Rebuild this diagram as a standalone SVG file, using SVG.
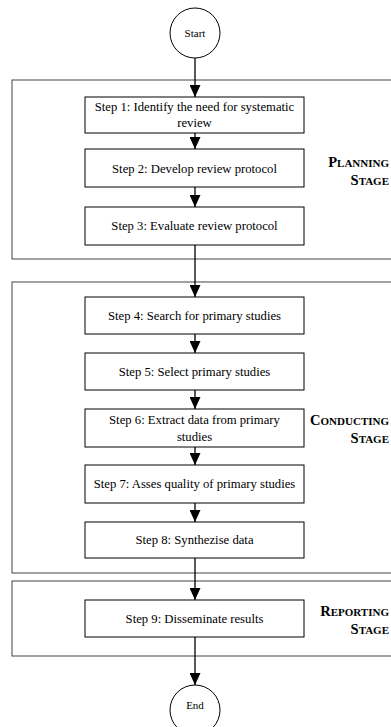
<svg xmlns="http://www.w3.org/2000/svg" width="391" height="727" viewBox="0 0 391 727">
<style>
.stage{fill:none;stroke:#444;stroke-width:1}
.box{fill:#fff;stroke:#000;stroke-width:1}
.term{fill:#fff;stroke:#000;stroke-width:1}
.t{font-family:"Liberation Serif","Times New Roman",serif;font-size:12.7px;fill:#000;text-anchor:middle}
.lab{font-family:"Liberation Serif","Times New Roman",serif;font-weight:bold;fill:#000;text-anchor:end}
.big{font-size:14.5px}
.sm{font-size:11px}
.con{stroke:#000;stroke-width:1.3;fill:none;marker-end:url(#ah)}
</style>
<defs>
<marker id="ah" markerUnits="userSpaceOnUse" markerWidth="12" markerHeight="11" refX="12" refY="5.5" orient="auto">
<path d="M0,0 L12,5.5 L0,11 Z" fill="#000"/>
</marker>
</defs>
<rect width="391" height="727" fill="#fff"/>
<g id="stage-planning">
<rect class="stage" x="12" y="80" width="400" height="179"/>
<text class="lab" x="389" y="167"><tspan class="big">P</tspan><tspan class="sm">LANNING</tspan></text>
<text class="lab" x="389" y="185"><tspan class="big">S</tspan><tspan class="sm">TAGE</tspan></text>
</g>
<g id="stage-conducting">
<rect class="stage" x="12" y="282" width="400" height="291"/>
<text class="lab" x="389" y="425"><tspan class="big">C</tspan><tspan class="sm">ONDUCTING</tspan></text>
<text class="lab" x="389" y="443"><tspan class="big">S</tspan><tspan class="sm">TAGE</tspan></text>
</g>
<g id="stage-reporting">
<rect class="stage" x="12" y="581" width="400" height="75"/>
<text class="lab" x="389" y="616"><tspan class="big">R</tspan><tspan class="sm">EPORTING</tspan></text>
<text class="lab" x="389" y="634"><tspan class="big">S</tspan><tspan class="sm">TAGE</tspan></text>
</g>
<g id="connectors">
<line class="con" x1="195" y1="58" x2="195" y2="97"/>
<line class="con" x1="195" y1="133" x2="195" y2="149"/>
<line class="con" x1="195" y1="187" x2="195" y2="207"/>
<line class="con" x1="195" y1="245" x2="195" y2="297"/>
<line class="con" x1="195" y1="334" x2="195" y2="353"/>
<line class="con" x1="195" y1="390" x2="195" y2="409"/>
<line class="con" x1="195" y1="447" x2="195" y2="465"/>
<line class="con" x1="195" y1="503" x2="195" y2="522"/>
<line class="con" x1="195" y1="558" x2="195" y2="600"/>
<line class="con" x1="195" y1="637" x2="195" y2="685"/>
</g>
<g id="start">
<circle class="term" cx="195" cy="33" r="25"/>
<text class="t" x="195" y="37" style="font-size:11px">Start</text>
</g>
<g id="step1">
<rect class="box" x="85" y="97" width="219" height="36"/>
<text class="t" x="194.5" y="111">Step 1: Identify the need for systematic</text>
<text class="t" x="194.5" y="127">review</text>
</g>
<g id="step2">
<rect class="box" x="85" y="149" width="219" height="38"/>
<text class="t" x="194.5" y="172.5">Step 2: Develop review protocol</text>
</g>
<g id="step3">
<rect class="box" x="85" y="207" width="219" height="38"/>
<text class="t" x="194.5" y="230">Step 3: Evaluate review protocol</text>
</g>
<g id="step4">
<rect class="box" x="85" y="297" width="219" height="37"/>
<text class="t" x="194.5" y="320">Step 4: Search for primary studies</text>
</g>
<g id="step5">
<rect class="box" x="85" y="353" width="219" height="37"/>
<text class="t" x="194.5" y="376">Step 5: Select primary studies</text>
</g>
<g id="step6">
<rect class="box" x="85" y="409" width="219" height="38"/>
<text class="t" x="194.5" y="424">Step 6: Extract data from primary</text>
<text class="t" x="194.5" y="441">studies</text>
</g>
<g id="step7">
<rect class="box" x="85" y="465" width="219" height="38"/>
<text class="t" x="194.5" y="488">Step 7: Asses quality of primary studies</text>
</g>
<g id="step8">
<rect class="box" x="85" y="522" width="219" height="36"/>
<text class="t" x="194.5" y="544">Step 8: Synthezise data</text>
</g>
<g id="step9">
<rect class="box" x="85" y="600" width="219" height="37"/>
<text class="t" x="194.5" y="623">Step 9: Disseminate results</text>
</g>
<g id="end">
<circle class="term" cx="195" cy="710" r="25"/>
<text class="t" x="195" y="709" style="font-size:11px">End</text>
</g>
</svg>
